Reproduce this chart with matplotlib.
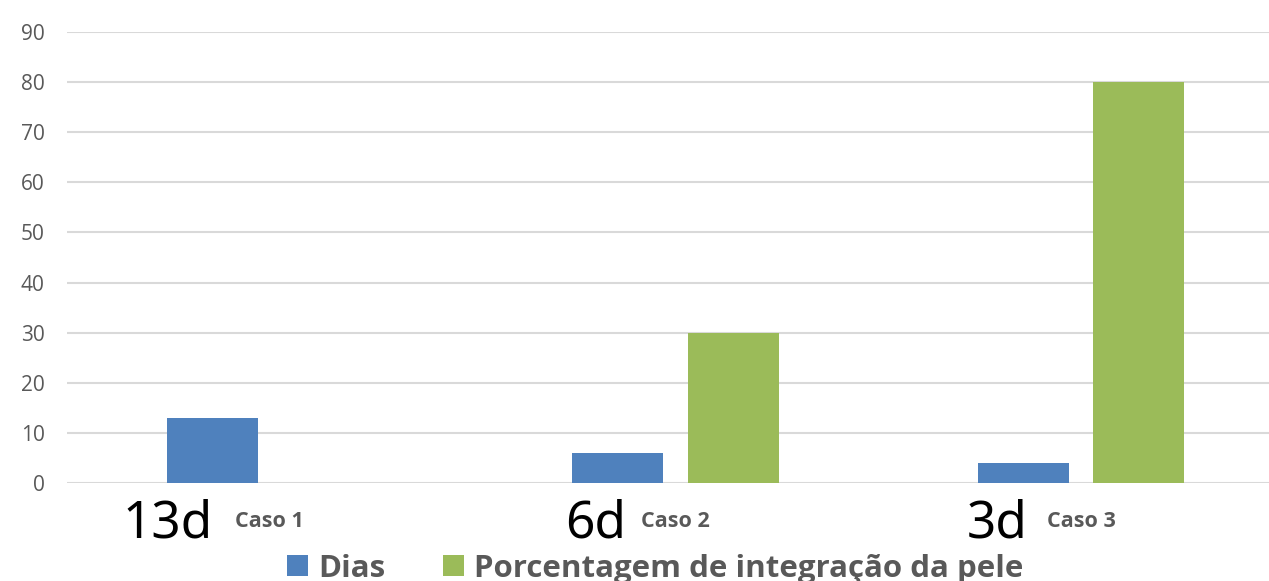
import matplotlib
matplotlib.use("Agg")
import matplotlib.pyplot as plt
import numpy as np

categories = ["Caso 1", "Caso 2", "Caso 3"]
dias = [13, 6, 4]
porcentagem = [0, 30, 80]
series_names = ["Dias", "Porcentagem de integração da pele"]
overlay_labels = ["13d", "6d", "3d"]
overlay_x = [-0.251, 0.803, 1.793]
yticks = list(range(0, 100, 10))

BLUE = "#4F81BD"
GREEN = "#9BBB59"
GRAY = "#595959"

fig = plt.figure(figsize=(12.69, 5.81), dpi=100)
W, H = 1269, 581
ax = fig.add_axes([67 / W, (H - 483) / H, (W - 67) / W, (483 - 32) / H])

x = np.arange(len(categories))
bw = 0.224
off = 0.142
ax.bar(x - off, dias, width=bw, color=BLUE, label=series_names[0], zorder=3)
ax.bar(x + off, porcentagem, width=bw, color=GREEN, label=series_names[1], zorder=3)

ax.set_xlim(-0.5, 2.463)
ax.set_ylim(0, 90)
ax.set_yticks(yticks)
ax.set_xticks(x)
ax.set_xticklabels(categories, fontfamily="Open Sans", fontweight="bold",
                   fontsize=15.5, color=GRAY)
for lbl in ax.get_yticklabels():
    lbl.set_fontfamily("Open Sans")
    lbl.set_fontsize(15)
    lbl.set_color(GRAY)
ax.tick_params(axis="both", length=0)
ax.tick_params(axis="y", pad=16)
ax.tick_params(axis="x", pad=20)
ax.grid(axis="y", color="#D9D9D9", linewidth=1.5, zorder=0)
for s in ax.spines.values():
    s.set_visible(False)

for xv, t in zip(overlay_x, overlay_labels):
    ax.text(xv, -10.78, t, ha="center", va="baseline", fontsize=37,
            fontfamily="Noto Sans", color="black", clip_on=False)

leg = fig.legend(loc="lower center", bbox_to_anchor=(655 / W, -0.053), ncol=2,
                 frameon=False, handlelength=0.68, handleheight=0.68,
                 handletextpad=0.32, columnspacing=1.85,
                 prop={"family": "Open Sans", "weight": "bold", "size": 22.5})
for t in leg.get_texts():
    t.set_color(GRAY)

fig.savefig("out.png", dpi=100)
